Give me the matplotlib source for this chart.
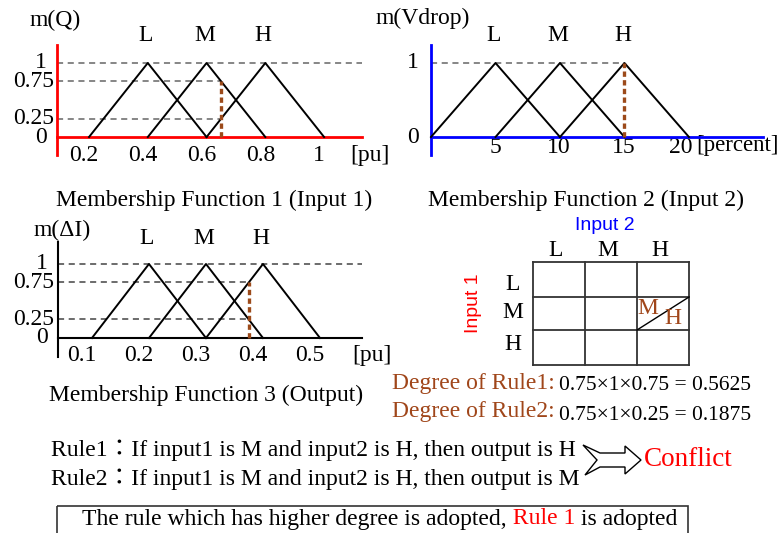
import matplotlib
matplotlib.use('Agg')
import matplotlib.pyplot as plt
from matplotlib.patches import Polygon, Rectangle
from matplotlib.transforms import ScaledTranslation

# ---- data -------------------------------------------------------------
labels = ['L', 'M', 'H']
mu_shape = [0, 1, 0]

q_sets = [[0.2, 0.4, 0.6], [0.4, 0.6, 0.8], [0.6, 0.8, 1.0]]
q_ticks = [0.2, 0.4, 0.6, 0.8, 1.0]
q_ticklabels = ['0.2', '0.4', '0.6', '0.8', '1']
q_input = 0.65

v_sets = [[0, 5, 10], [5, 10, 15], [10, 15, 20]]
v_ticks = [5, 10, 15, 20]
v_ticklabels = ['5', '10', '15', '20']
v_input = 15

i_sets = [[0.1, 0.2, 0.3], [0.2, 0.3, 0.4], [0.3, 0.4, 0.5]]
i_ticks = [0.1, 0.2, 0.3, 0.4, 0.5]
i_ticklabels = ['0.1', '0.2', '0.3', '0.4', '0.5']
i_output = 0.375

mu_q_M = 0.75
mu_v_H = 1
mu_i_H = 0.75
mu_i_M = 0.25

W, H = 783, 533
BROWN = '#A0461A'
DOT = '#9C4A1A'
GRAY = '#666666'
SERIF = ['Liberation Serif', 'Noto Sans CJK JP']
SANS = ['Liberation Sans', 'DejaVu Sans']
FS = 17
TS = 17   # tick label size

plt.rcParams['font.family'] = SERIF

fig = plt.figure(figsize=(W / 100, H / 100), dpi=100)

# overlay in pixel coords for the free text
ov = fig.add_axes([0, 0, 1, 1])
ov.set_xlim(0, W)
ov.set_ylim(H, 0)
ov.axis('off')


def px_axes(x0, y0, x1, y1):
    return fig.add_axes([x0 / W, 1 - y1 / H, (x1 - x0) / W, (y1 - y0) / H])


def mf_panel(box, xlim, ylim, sets, color, ticks, ticklabels, pad, shift, label_y):
    ax = px_axes(*box)
    ax.set_xlim(*xlim)
    ax.set_ylim(*ylim)
    ax.patch.set_alpha(0)
    for s in ['top', 'right']:
        ax.spines[s].set_visible(False)
    ax.spines['left'].set_color(color)
    ax.spines['left'].set_linewidth(2)
    ax.spines['bottom'].set_color(color)
    ax.spines['bottom'].set_linewidth(2)
    ax.spines['bottom'].set_position(('data', 0))
    ax.set_yticks([])
    ax.set_xticks(ticks, ticklabels)
    ax.tick_params(length=0, labelsize=TS, pad=pad)
    for lab, dx in zip(ax.get_xticklabels(), shift):
        lab.set_transform(lab.get_transform() + ScaledTranslation(dx / 100, 0, fig.dpi_scale_trans))
    for xs, name in zip(sets, labels):
        ax.plot(xs, mu_shape, color='black', lw=1.4, clip_on=False, zorder=3)
        ax.text(xs[1], label_y, name, fontsize=FS, ha='center', va='center',
                transform=ax.transData + ScaledTranslation(-2 / 100, 0, fig.dpi_scale_trans))
    return ax


def ylab(ax, val, txt, dx, ha):
    ax.annotate(txt, xy=(0, val), xycoords=('axes fraction', 'data'),
                xytext=(dx * 0.72, 0), textcoords='offset points',
                ha=ha, va='center', fontsize=TS)


# ---- panel 1 : m(Q) ---------------------------------------------------
ax1 = mf_panel((57, 45, 362, 155), (0.091, 1.129), (-0.243, 1.243), q_sets, 'red',
               q_ticks, q_ticklabels, 6, [-5] * 5, 1.378)
ax1.hlines(1, 0.091, 1.129, colors=GRAY, ls=(0, (4, 3)), lw=1.1)
ax1.hlines([mu_q_M, 1 - mu_q_M], 0.091, q_input, colors=GRAY, ls=(0, (4, 3)), lw=1.1)
ax1.vlines(q_input, 0, mu_q_M, colors=DOT, ls=(0, (1.6, 1)), lw=2.4, zorder=4)
ylab(ax1, 1, '1', -16, 'center')
ylab(ax1, 0.75, '0.75', -3, 'right')
ylab(ax1, 0.25, '0.25', -3, 'right')
ylab(ax1, 0, '0', -16, 'center')
ov.text(350, 155, '[pu]', fontsize=TS, ha='left', va='center')
ov.text(55, 20, 'm(Q)', fontsize=FS, ha='center', va='center')

# ---- panel 2 : m(Vdrop) -----------------------------------------------
ax2 = mf_panel((431, 45, 763, 155), (0, 25.74), (-0.243, 1.243), v_sets, 'blue',
               v_ticks, v_ticklabels, 0, [0, -1, -1, -8], 1.378)
ax2.hlines(1, 0, v_input, colors=GRAY, ls=(0, (4, 3)), lw=1.1)
ax2.vlines(v_input, 0, mu_v_H, colors=DOT, ls=(0, (1.6, 1)), lw=2.4, zorder=4)
ylab(ax2, 1, '1', -18, 'center')
ylab(ax2, 0, '0', -18, 'center')
ov.text(696, 146, '[percent]', fontsize=16.5, ha='left', va='center')
ov.text(423, 18, 'm(Vdrop)', fontsize=FS, ha='center', va='center')

# ---- panel 3 : m(dI) --------------------------------------------------
ax3 = mf_panel((58, 242, 362, 357), (0.0404, 0.5737), (-0.257, 1.297), i_sets, 'black',
               i_ticks, i_ticklabels, 5, [-10] * 5, 1.351)
ax3.spines['left'].set_linewidth(1.5)
ax3.spines['bottom'].set_linewidth(1.5)
ax3.hlines(1, 0.0404, 0.5737, colors='#444444', ls=(0, (4, 3)), lw=1.1)
ax3.hlines([mu_i_H, mu_i_M], 0.0404, i_output, colors='#444444', ls=(0, (4, 3)), lw=1.1)
ax3.vlines(i_output, 0, mu_i_H, colors=DOT, ls=(0, (1.6, 1)), lw=2.4, zorder=4)
ylab(ax3, 1, '1', -16, 'center')
ylab(ax3, 0.75, '0.75', -4, 'right')
ylab(ax3, 0.25, '0.25', -4, 'right')
ylab(ax3, 0, '0', -16, 'center')
ov.text(352, 355, '[pu]', fontsize=TS, ha='left', va='center')
ov.text(62, 230, 'm(ΔI)', fontsize=FS, ha='center', va='center')

# ---- titles -----------------------------------------------------------
ov.text(214, 200, 'Membership Function 1 (Input 1)', fontsize=FS, ha='center', va='center')
ov.text(586, 200, 'Membership Function 2 (Input 2)', fontsize=FS, ha='center', va='center')
ov.text(206, 395, 'Membership Function 3 (Output)', fontsize=FS, ha='center', va='center')

# ---- rule table -------------------------------------------------------
col_x = [533, 585, 637, 689]
row_y = [262, 297, 330, 365]
for x in col_x:
    ov.plot([x, x], [row_y[0], row_y[-1]], color='#333333', lw=1.3)
for y in row_y:
    ov.plot([col_x[0], col_x[-1]], [y, y], color='#333333', lw=1.3)
ov.plot([col_x[2], col_x[3]], [row_y[2], row_y[1]], color='black', lw=1)
for k, name in enumerate(labels):
    ov.text((col_x[k] + col_x[k + 1]) / 2 - 3, 250, name, fontsize=FS, ha='center', va='center')
    ov.text(513, [284, 313, 345][k], name, fontsize=FS, ha='center', va='center')
ov.text(605, 225, 'Input 2', fontsize=14, color='blue', ha='center', va='center', family=SANS)
ov.text(473, 303, 'Input 1', fontsize=14, color='red', ha='center', va='center',
        rotation=90, family=SANS)
ov.text(648, 309, 'M', fontsize=FS, color=BROWN, ha='center', va='center')
ov.text(673, 318, 'H', fontsize=FS, color=BROWN, ha='center', va='center')

# ---- degrees ----------------------------------------------------------
deg1 = mu_q_M * mu_v_H * mu_i_H
deg2 = mu_q_M * mu_v_H * mu_i_M
ov.text(392, 383, 'Degree of Rule1:', fontsize=FS, color=BROWN, ha='left', va='center')
ov.text(392, 412, 'Degree of Rule2:', fontsize=FS, color=BROWN, ha='left', va='center')
ov.text(559, 385, f'{mu_q_M}\u00d7{mu_v_H}\u00d7{mu_i_H} = {deg1}', fontsize=15.5, ha='left', va='center')
ov.text(559, 415, f'{mu_q_M}\u00d7{mu_v_H}\u00d7{mu_i_M} = {deg2}', fontsize=15.5, ha='left', va='center')

# ---- rules ------------------------------------------------------------
ov.text(51, 450, 'Rule1\uff1aIf input1 is M and input2 is H, then output is H', fontsize=17,
        ha='left', va='center')
ov.text(51, 479, 'Rule2\uff1aIf input1 is M and input2 is H, then output is M', fontsize=17,
        ha='left', va='center')
arrow = Polygon([(583, 445), (600, 453), (625, 453), (625, 446), (641, 460), (625, 474),
                 (625, 467), (600, 467), (585, 475), (597, 460)],
                closed=True, facecolor='white', edgecolor='black', lw=1)
ov.add_patch(arrow)
ov.text(644, 460, 'Conflict', fontsize=19.5, color='red', ha='left', va='center')

# ---- conclusion box ---------------------------------------------------
ov.add_patch(Rectangle((57, 506), 631, 40, facecolor='none', edgecolor='#333333', lw=1.2,
                       clip_on=False))
t1 = ov.text(82, 519, 'The rule which has higher degree is adopted,', fontsize=FS,
             ha='left', va='center')
t2 = ov.annotate(' Rule 1', xy=(1, 0), xycoords=t1, ha='left', va='bottom',
                 fontsize=FS, color='red')
ov.annotate(' is adopted', xy=(1, 0), xycoords=t2, ha='left', va='bottom', fontsize=FS)

fig.savefig('out.png', dpi=100)
